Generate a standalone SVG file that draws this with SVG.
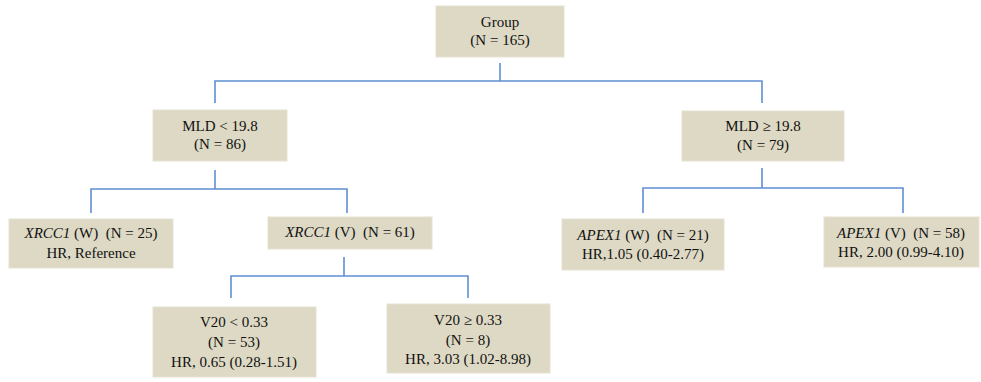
<svg xmlns="http://www.w3.org/2000/svg" width="981" height="382" viewBox="0 0 981 382">
<style>
.box{fill:#ddd9c4;stroke:#e6e2d2;stroke-width:1}
.t{font-family:"Liberation Serif","Times New Roman",serif;font-size:15px;fill:#111;text-anchor:middle;white-space:pre}
.i{font-style:italic}
.c{fill:none;stroke:#5f8fd3;stroke-width:1.6}
</style>
<rect width="981" height="382" fill="#fff"/>
<g id="connectors">
<path class="c" d="M500 63V81M215 103V81H762V103"/>
<path class="c" d="M215 170V189M91 213V189H347V213"/>
<path class="c" d="M762 168V188M643 213V188H903V213"/>
<path class="c" d="M344 257V276M231 298V276H468V298"/>
</g>
<g id="group">
<rect class="box" x="436" y="6" width="128" height="51"/>
<text class="t" x="500" y="27">Group</text>
<text class="t" x="500" y="45">(N = 165)</text>
</g>
<g id="mld_low">
<rect class="box" x="153" y="110" width="134" height="51"/>
<text class="t" x="220" y="131">MLD &lt; 19.8</text>
<text class="t" x="220" y="149">(N = 86)</text>
</g>
<g id="mld_high">
<rect class="box" x="682" y="111" width="162" height="50"/>
<text class="t" x="763" y="131">MLD ≥ 19.8</text>
<text class="t" x="763" y="150">(N = 79)</text>
</g>
<g id="xrcc1_w">
<rect class="box" x="9" y="219" width="164" height="49"/>
<text class="t" x="91" y="238"><tspan class="i">XRCC1</tspan> (W)  (N = 25)</text>
<text class="t" x="91" y="258">HR, Reference</text>
</g>
<g id="xrcc1_v">
<rect class="box" x="268" y="217" width="164" height="32"/>
<text class="t" x="350" y="237"><tspan class="i">XRCC1</tspan> (V)  (N = 61)</text>
</g>
<g id="apex1_w">
<rect class="box" x="562" y="219" width="162" height="51"/>
<text class="t" x="643" y="240"><tspan class="i">APEX1</tspan> (W)  (N = 21)</text>
<text class="t" x="643" y="259">HR,1.05 (0.40-2.77)</text>
</g>
<g id="apex1_v">
<rect class="box" x="824" y="217" width="155" height="50"/>
<text class="t" x="901" y="238"><tspan class="i">APEX1</tspan> (V)  (N = 58)</text>
<text class="t" x="901" y="257">HR, 2.00 (0.99-4.10)</text>
</g>
<g id="v20_low">
<rect class="box" x="153" y="307" width="163" height="70"/>
<text class="t" x="234" y="327">V20 &lt; 0.33</text>
<text class="t" x="234" y="347">(N = 53)</text>
<text class="t" x="234" y="367">HR, 0.65 (0.28-1.51)</text>
</g>
<g id="v20_high">
<rect class="box" x="387" y="304" width="163" height="69"/>
<text class="t" x="468" y="325">V20 ≥ 0.33</text>
<text class="t" x="468" y="345">(N = 8)</text>
<text class="t" x="468" y="364">HR, 3.03 (1.02-8.98)</text>
</g>
</svg>
